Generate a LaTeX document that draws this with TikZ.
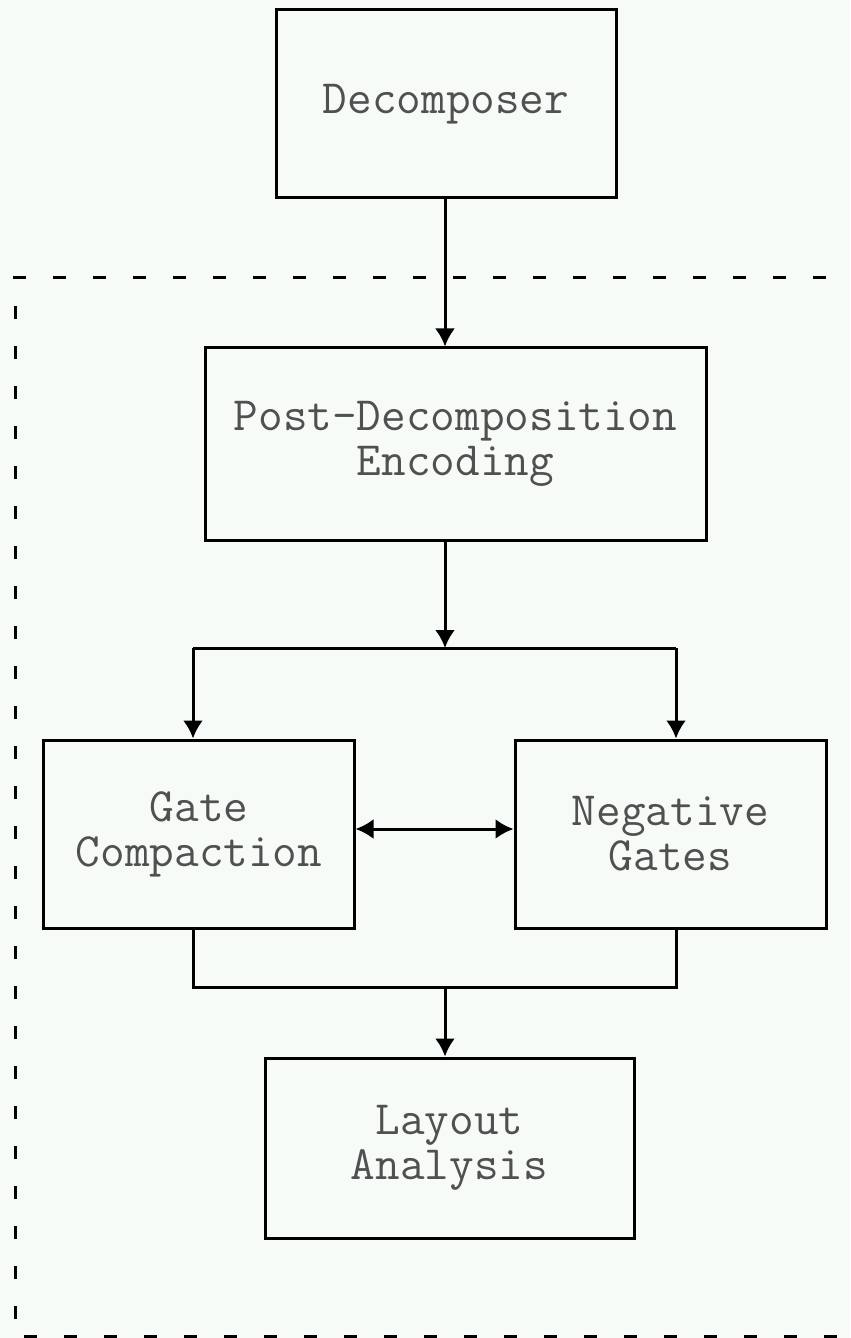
\documentclass[tikz,border=0pt]{standalone}
\usepackage{fontspec}
\usetikzlibrary{arrows.meta}
\definecolor{bg}{HTML}{F6FBF8}
\definecolor{txt}{HTML}{505050}
\begin{document}
\begin{tikzpicture}[x=1bp,y=-1bp,
  box/.style={draw=black,line width=3bp,fill=bg,inner sep=0pt,align=center,
    font=\ttfamily\fontsize{48}{45}\selectfont,text=txt},
  conn/.style={line width=3bp},
  tip/.tip={Latex[length=18bp,width=20bp]},
  arr/.style={conn,-tip},
  dashline/.style={line width=3bp,dash pattern=on 13bp off 27bp}]
\fill[bg] (0,0) rectangle (850,1338);
\useasboundingbox (0,0) rectangle (850,1338);
% dashed frame
\draw[dashline] (13,278) -- (850,278);
\draw[dashline] (15,306) -- (15,1338);
\draw[dashline] (24,1336.5) -- (850,1336.5);
% boxes
\node[box,minimum width=340bp,minimum height=188bp] (dec) at (446,104) {Decomposer};
\node[box,minimum width=501bp,minimum height=192bp] (post) at (455.5,444) {Post-Decomposition\\Encoding};
\node[box,minimum width=310bp,minimum height=188bp] (gate) at (199,834) {Gate\\Compaction};
\node[box,minimum width=311bp,minimum height=188bp] (neg) at (670.5,834) {Negative\\Gates};
\node[box,minimum width=369bp,minimum height=180bp] (lay) at (449.5,1148) {Layout\\Analysis};
% connectors
\coordinate (split) at (445,648);
\coordinate (splitL) at (193,648);
\coordinate (splitR) at (676,648);
\coordinate (join) at (445,987);
\coordinate (joinL) at (193,987);
\coordinate (joinR) at (676,987);
\draw[arr] (dec.south -| split) -- (post.north -| split);
\draw[arr] (post.south -| split) -- (split);
\draw[conn] (splitL) -- (splitR);
\draw[arr] (splitL) -- (gate.north -| splitL);
\draw[arr] (splitR) -- (neg.north -| splitR);
\draw[conn,tip-tip] (gate.east |- 0,829) -- (neg.west |- 0,829);
\draw[conn] (gate.south -| joinL) -- (joinL) -- (joinR) -- (neg.south -| joinR);
\draw[arr] (join) -- (lay.north -| join);
\end{tikzpicture}
\end{document}
